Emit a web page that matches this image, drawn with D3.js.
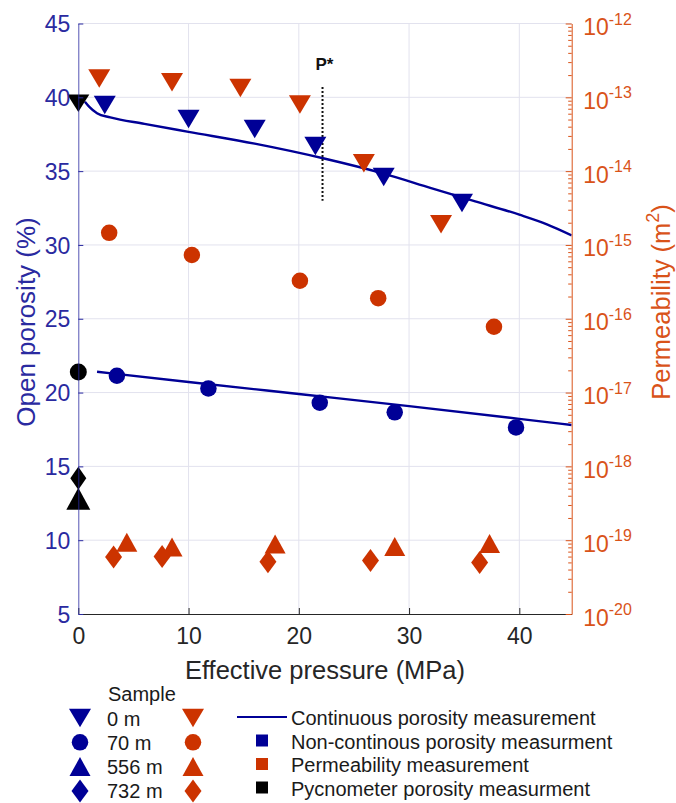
<!DOCTYPE html>
<html>
<head>
<meta charset="utf-8">
<script src="https://cdn.jsdelivr.net/npm/d3@7"></script>
<style>
  html, body { margin: 0; padding: 0; background: #fff; }
  svg { display: block; font-family: "Liberation Sans", Arial, Helvetica, sans-serif; }
</style>
</head>
<body>
<svg id="chart" width="676" height="803"></svg>
<script>
// ---- Data ----------------------------------------------------------------
// Porosity (left axis, %) and permeability (right axis, m^2) vs effective pressure (MPa)

// 0 m sample
const pressure0Por = [2.4, 10.0, 16.0, 21.5, 27.7, 34.8];
const porosity0    = [39.48, 38.53, 37.85, 36.7, 34.6, 32.84];
const pressure0Perm = [1.9, 8.5, 14.7, 20.1, 25.9, 32.9];
const permeability0 = [1.8e-13, 1.6e-13, 1.34e-13, 8.0e-14, 1.28e-14, 1.9e-15];

// 70 m sample
const pressure70Por = [3.5, 11.8, 21.9, 28.7, 39.7];
const porosity70    = [21.14, 20.28, 19.31, 18.66, 17.64];
const pressure70Perm = [2.8, 10.3, 20.1, 27.2, 37.7];
const permeability70 = [1.46e-15, 7.3e-16, 3.27e-16, 1.9e-16, 7.8e-17];

// 556 m sample
const pressure556Perm = [4.4, 8.5, 17.85, 28.7, 37.3];
const permeability556 = [9.4e-20, 8.1e-20, 8.9e-20, 8.2e-20, 9.0e-20];

// 732 m sample
const pressure732Perm = [3.2, 7.6, 17.2, 26.5, 36.4];
const permeability732 = [5.9e-20, 6.0e-20, 5.1e-20, 5.3e-20, 5.0e-20];

// Pycnometer porosity (ambient pressure)
const pycnoSamples  = ["0 m", "70 m", "556 m", "732 m"];
const pycnoPressure = [0, 0, 0, 0];
const pycnoPorosity = [39.6, 21.4, 12.8, 14.2];

// Continuous porosity recordings
const contPressure0 = [0.6, 1.0, 1.7, 2.9, 6.0, 10.0, 16.0, 22.2, 27.7, 32.0, 36.0, 40.0, 42.5, 44.75];
const contPorosity0 = [39.7, 39.35, 38.92, 38.64, 38.2, 37.66, 36.86, 35.87, 34.83, 33.85, 32.95, 32.05, 31.4, 30.65];
const contPressure70 = [1.7, 10.0, 20.0, 30.0, 40.0, 44.75];
const contPorosity70 = [21.41, 20.72, 19.9, 19.08, 18.22, 17.8];

// Critical pressure marker
const pStarPressure = 22.15;
const pStarRange = [33.0, 40.7];

// Axis ticks
const xTicks = [0, 10, 20, 30, 40];
const leftTicks = [5, 10, 15, 20, 25, 30, 35, 40, 45];
const rightExponents = [-20, -19, -18, -17, -16, -15, -14, -13, -12];

// Legend entries
const sampleLabels = ["0 m", "70 m", "556 m", "732 m"];
const sampleShapes = ["down", "circle", "up", "diamond"];
const measureLabels = ["Continuous porosity measurement", "Non-continous porosity measurment",
                       "Permeability measurement", "Pycnometer porosity measurment"];

// ---- Styling ----------------------------------------------------------------
const BLUE = "#000096";
const RED = "#cc3300";
const BLACK = "#000000";
const LEFT_AXIS = "#2a2aa0";
const RIGHT_AXIS = "#D95319";
const TEXT_DARK = "#262626";
const GRID = "#e2e2ee";

const svg = d3.select("#chart");
const plot = { left: 78.3, right: 571.7, top: 23.5, bottom: 614 };

const x = d3.scaleLinear().domain([0, 44.75]).range([plot.left, plot.right]);
const yL = d3.scaleLinear().domain([5, 45]).range([plot.bottom, plot.top]);
const yR = d3.scaleLog().domain([1e-20, 1e-12]).range([plot.bottom, plot.top]);

// marker path generator, centred on its bounding box
function markerPath(shape, w, h) {
  const hw = w / 2, hh = h / 2;
  if (shape === "down") return `M${-hw},${-hh}L${hw},${-hh}L0,${hh}Z`;
  if (shape === "up") return `M${-hw},${hh}L${hw},${hh}L0,${-hh}Z`;
  if (shape === "diamond") return `M0,${-hh}L${hw},0L0,${hh}L${-hw},0Z`;
  if (shape === "square") return `M${-hw},${-hh}H${hw}V${hh}H${-hw}Z`;
  // circle
  return `M${hw},0A${hw},${hw} 0 1,1 ${-hw},0A${hw},${hw} 0 1,1 ${hw},0Z`;
}
const markerSize = {
  down: [22, 18.5], up: [21, 19], diamond: [17, 23], circle: [16.5, 16.5], square: [12, 12]
};

// ---- Grid ----------------------------------------------------------------
const grid = svg.append("g");
grid.selectAll("line.gx").data(xTicks.filter(d => d > 0)).join("line")
  .attr("x1", d => x(d)).attr("x2", d => x(d))
  .attr("y1", plot.top).attr("y2", plot.bottom)
  .attr("stroke", GRID).attr("stroke-width", 1);
grid.selectAll("line.gy").data(leftTicks.filter(d => d > 5)).join("line")
  .attr("x1", plot.left).attr("x2", plot.right)
  .attr("y1", d => yL(d)).attr("y2", d => yL(d))
  .attr("stroke", GRID).attr("stroke-width", 1);

// ---- Continuous lines ------------------------------------------------------
svg.append("clipPath").attr("id", "plotClip").append("rect")
  .attr("x", plot.left).attr("y", plot.top)
  .attr("width", plot.right - plot.left).attr("height", plot.bottom - plot.top);

const line = d3.line().x(d => x(d[0])).y(d => yL(d[1])).curve(d3.curveMonotoneX);
const lines = svg.append("g").attr("clip-path", "url(#plotClip)");
[[contPressure0, contPorosity0], [contPressure70, contPorosity70]].forEach(([px, py]) => {
  lines.append("path")
    .attr("d", line(px.map((p, i) => [p, py[i]])))
    .attr("fill", "none").attr("stroke", BLUE).attr("stroke-width", 2.4)
    .attr("stroke-linejoin", "round");
});

// P* indicator
svg.append("line")
  .attr("x1", x(pStarPressure)).attr("x2", x(pStarPressure))
  .attr("y1", yL(pStarRange[1])).attr("y2", yL(pStarRange[0]))
  .attr("stroke", "#111").attr("stroke-width", 2).attr("stroke-dasharray", "2,2");
svg.append("text")
  .attr("x", x(pStarPressure) + 2).attr("y", 70)
  .attr("text-anchor", "middle").attr("font-size", 17).attr("font-weight", "bold")
  .attr("fill", "#111").text("P*");

// ---- Markers ----------------------------------------------------------------
function drawMarkers(xs, ys, yScale, shape, color, size) {
  const [w, h] = size || markerSize[shape];
  svg.append("g").selectAll("path").data(xs.map((p, i) => [p, ys[i]])).join("path")
    .attr("transform", d => `translate(${x(d[0])},${yScale(d[1])})`)
    .attr("d", markerPath(shape, w, h))
    .attr("fill", color);
}

drawMarkers(pressure0Perm, permeability0, yR, "down", RED);
drawMarkers(pressure70Perm, permeability70, yR, "circle", RED);
drawMarkers(pressure556Perm, permeability556, yR, "up", RED);
drawMarkers(pressure732Perm, permeability732, yR, "diamond", RED);

drawMarkers(pressure0Por, porosity0, yL, "down", BLUE);
drawMarkers(pressure70Por, porosity70, yL, "circle", BLUE);

// pycnometer values, one marker per sample
const pycnoShapeSize = { down: [22, 17.5], circle: [17, 17], up: [24, 22], diamond: [16, 23] };
pycnoSamples.forEach((s, i) => {
  const shape = sampleShapes[i];
  drawMarkers([pycnoPressure[i]], [pycnoPorosity[i]], yL, shape, BLACK, pycnoShapeSize[shape]);
});

// ---- Axes ----------------------------------------------------------------
const xAxis = svg.append("g").attr("transform", `translate(0,${plot.bottom})`)
  .call(d3.axisBottom(x).tickValues(xTicks).tickSize(-6).tickSizeOuter(0).tickPadding(14));
xAxis.select(".domain").attr("stroke", TEXT_DARK).attr("stroke-width", 1);
xAxis.selectAll(".tick line").attr("stroke", TEXT_DARK);
xAxis.selectAll(".tick text").attr("fill", TEXT_DARK).attr("font-size", 23)
  .attr("font-family", "Liberation Sans, Arial, sans-serif");

const leftAxis = svg.append("g").attr("transform", `translate(${plot.left},0)`)
  .call(d3.axisLeft(yL).tickValues(leftTicks).tickSize(-5).tickSizeOuter(0).tickPadding(8));
leftAxis.select(".domain").attr("stroke", LEFT_AXIS).attr("stroke-width", 1).attr("opacity", 0.8);
leftAxis.selectAll(".tick line").attr("stroke", LEFT_AXIS);
leftAxis.selectAll(".tick text").attr("fill", LEFT_AXIS).attr("font-size", 23)
  .attr("font-family", "Liberation Sans, Arial, sans-serif").attr("dy", "0.35em");

// right log axis: minor and major ticks
const minorValues = [];
rightExponents.slice(0, -1).forEach(e => {
  for (let m = 2; m <= 9; m++) minorValues.push(m * Math.pow(10, e));
});
const majorValues = rightExponents.map(e => Math.pow(10, e));
const rightAxis = svg.append("g").attr("transform", `translate(${plot.right},0)`)
  .call(d3.axisRight(yR).tickValues(majorValues).tickSize(-6).tickSizeOuter(0).tickFormat(""));
rightAxis.select(".domain").attr("stroke", RIGHT_AXIS).attr("stroke-width", 1);
rightAxis.selectAll(".tick line").attr("stroke", RIGHT_AXIS);
const rightMinor = svg.append("g").attr("transform", `translate(${plot.right},0)`)
  .call(d3.axisRight(yR).tickValues(minorValues).tickSize(-3.5).tickSizeOuter(0).tickFormat(""));
rightMinor.select(".domain").remove();
rightMinor.selectAll(".tick line").attr("stroke", RIGHT_AXIS);

const rLabels = svg.append("g").attr("fill", RIGHT_AXIS);
rightExponents.forEach(e => {
  const t = rLabels.append("text")
    .attr("x", plot.right + 11.5).attr("y", yR(Math.pow(10, e)) + 11.5)
    .attr("font-size", 23);
  t.append("tspan").text("10");
  t.append("tspan").attr("dy", -10.5).attr("font-size", 16).text(String(e));
});

// axis titles
svg.append("text")
  .attr("x", (plot.left + plot.right) / 2).attr("y", 679)
  .attr("text-anchor", "middle").attr("font-size", 25.5).attr("fill", TEXT_DARK)
  .text("Effective pressure (MPa)");

svg.append("text")
  .attr("transform", `translate(35,322) rotate(-90)`)
  .attr("text-anchor", "middle").attr("font-size", 26).attr("fill", LEFT_AXIS)
  .text("Open porosity (%)");

const rTitle = svg.append("text")
  .attr("transform", `translate(670,302) rotate(-90)`)
  .attr("text-anchor", "middle").attr("font-size", 25.5).attr("fill", RIGHT_AXIS);
rTitle.append("tspan").text("Permeability (m");
rTitle.append("tspan").attr("dy", -11).attr("font-size", 18).text("2");
rTitle.append("tspan").attr("dy", 11).text(")");

// ---- Legend ----------------------------------------------------------------
const legend = svg.append("g").attr("font-size", 20).attr("fill", "#1a1a1a");
legend.append("text").attr("x", 108).attr("y", 701).text("Sample");
sampleLabels.forEach((lab, i) => {
  const base = 725.5 + i * 24.3;
  const cy = base - 7.5;
  const shape = sampleShapes[i];
  const [w, h] = markerSize[shape];
  legend.append("path").attr("transform", `translate(80,${cy})`)
    .attr("d", markerPath(shape, w, h)).attr("fill", BLUE);
  legend.append("path").attr("transform", `translate(193,${cy})`)
    .attr("d", markerPath(shape, w, h)).attr("fill", RED);
  legend.append("text").attr("x", 107).attr("y", base).text(lab);
});

const measureColors = [BLUE, BLUE, RED, BLACK];
measureLabels.forEach((lab, i) => {
  const base = 725 + i * 23.5;
  const cy = base - 8;
  if (i === 0) {
    legend.append("line").attr("x1", 237).attr("x2", 287).attr("y1", cy).attr("y2", cy)
      .attr("stroke", BLUE).attr("stroke-width", 2);
  } else {
    legend.append("path").attr("transform", `translate(262,${cy})`)
      .attr("d", markerPath("square", 12, 12)).attr("fill", measureColors[i]);
  }
  legend.append("text").attr("x", 291).attr("y", base).text(lab);
});
</script>
</body>
</html>
